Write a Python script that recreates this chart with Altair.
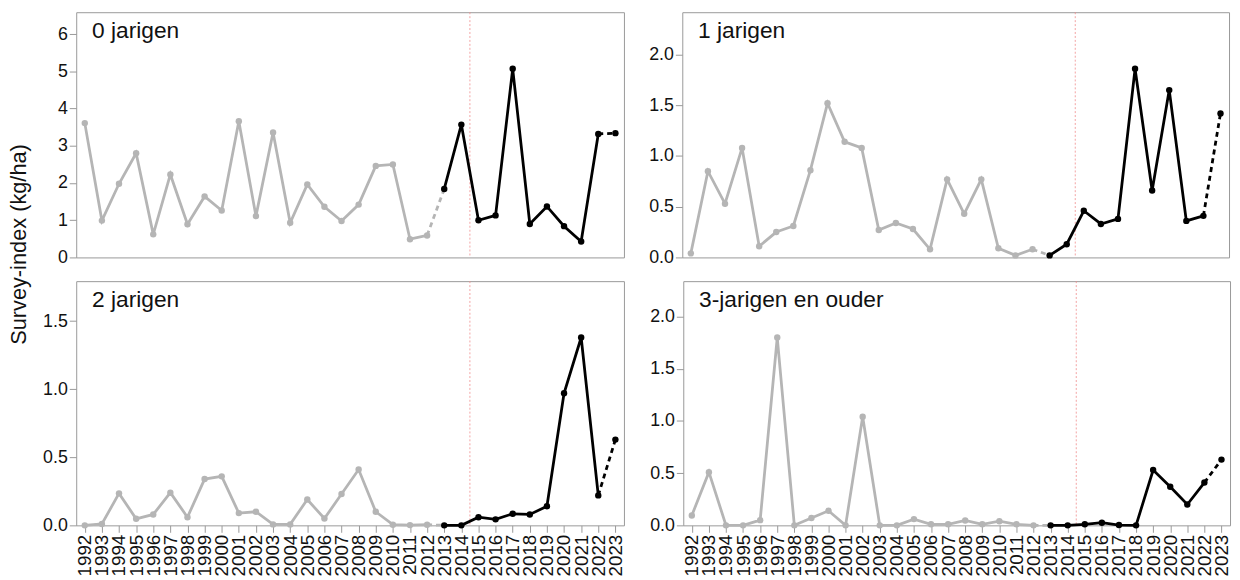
import altair as alt
import pandas as pd

years = list(range(1992, 2024))
age0 = [3.61, 0.99, 1.98, 2.80, 0.62, 2.23, 0.89, 1.64, 1.26, 3.66, 1.11, 3.36, 0.93, 1.96, 1.36, 0.98,
        1.42, 2.46, 2.50, 0.49, 0.59, 1.84, 3.57, 1.00, 1.13, 5.07, 0.90, 1.37, 0.84, 0.43, 3.32, 3.34]
age1 = [0.04, 0.85, 0.53, 1.08, 0.11, 0.25, 0.31, 0.86, 1.52, 1.14, 1.08, 0.27, 0.34, 0.28, 0.08, 0.77,
        0.43, 0.77, 0.09, 0.02, 0.08, 0.02, 0.13, 0.46, 0.33, 0.38, 1.86, 0.66, 1.65, 0.36, 0.41, 1.42]
age2 = [0.0, 0.01, 0.235, 0.048, 0.08, 0.24, 0.06, 0.34, 0.36, 0.09, 0.10, 0.007, 0.007, 0.19, 0.05, 0.23,
        0.41, 0.10, 0.005, 0.002, 0.005, 0.0, 0.0, 0.06, 0.044, 0.085, 0.08, 0.14, 0.97, 1.38, 0.22, 0.63]
age3 = [0.095, 0.51, 0.0, 0.0, 0.05, 1.80, 0.0, 0.07, 0.14, 0.0, 1.04, 0.0, 0.0, 0.06, 0.01, 0.01,
        0.047, 0.01, 0.04, 0.01, 0.0, 0.0, 0.0, 0.01, 0.025, 0.003, 0.0, 0.53, 0.37, 0.20, 0.41, 0.63]

panel_titles = ["0 jarigen", "1 jarigen", "2 jarigen", "3-jarigen en ouder"]
y_ticks = [[0, 1, 2, 3, 4, 5, 6], [0, 0.5, 1.0, 1.5, 2.0], [0, 0.5, 1.0, 1.5], [0, 0.5, 1.0, 1.5, 2.0]]
y_formats = ["d", ".1f", ".1f", ".1f"]
split_year = [2014.5]
old_last = 2012   # last year of the old survey series (gray)
new_last = 2022   # last year of the new series before the latest point

FONT = "Liberation Sans"
GRAY = "#b5b5b5"
BLACK = "#000000"


def panel(vals, title, ticks, fmt, show_x, w, h):
    df = pd.DataFrame({"year": years, "value": vals})
    ymax = max(vals) * 1.3
    xs = alt.Scale(domain=[1991.5, 2023.5], nice=False, zero=False)
    ys = alt.Scale(domain=[0, ymax], nice=False)
    if show_x:
        xaxis = alt.Axis(values=years, format="d", labelAngle=-90, labelOverlap=False,
                         labelFlush=False, tickSize=7, labelPadding=2)
    else:
        xaxis = None
    yaxis = alt.Axis(values=ticks, format=fmt, labelFlush=False, labelOverlap=False,
                     tickSize=7, labelPadding=2, minExtent=40, maxExtent=40)
    enc = dict(x=alt.X("year:Q", scale=xs, axis=xaxis, title=None),
               y=alt.Y("value:Q", scale=ys, axis=yaxis, title=None))
    base = alt.Chart(df).encode(**enc)

    old_line = base.transform_filter(alt.datum.year <= old_last).mark_line(
        color=GRAY, strokeWidth=2.8)
    gap_line = base.transform_filter(
        (alt.datum.year >= old_last) & (alt.datum.year <= old_last + 1)).mark_line(
        color=GRAY, strokeWidth=2.8, strokeDash=[5, 4])
    new_line = base.transform_filter(
        (alt.datum.year > old_last) & (alt.datum.year <= new_last)).mark_line(
        color=BLACK, strokeWidth=2.8)
    last_line = base.transform_filter(alt.datum.year >= new_last).mark_line(
        color=BLACK, strokeWidth=2.8, strokeDash=[5, 4])
    old_pts = base.transform_filter(alt.datum.year <= old_last).mark_circle(
        color=GRAY, size=42, opacity=1)
    new_pts = base.transform_filter(alt.datum.year > old_last).mark_circle(
        color=BLACK, size=42, opacity=1)

    rule = alt.Chart(pd.DataFrame({"year": split_year})).mark_rule(
        color="#f08c8c", strokeWidth=0.8, strokeDash=[2, 2]).encode(
        x=alt.X("year:Q", scale=xs, axis=xaxis, title=None))

    label = alt.Chart(pd.DataFrame({"t": [title]})).mark_text(
        align="left", baseline="alphabetic", font=FONT, fontSize=23, color="#111").encode(
        x=alt.value(16), y=alt.value(26), text="t:N")

    return alt.layer(rule, old_line, gap_line, new_line, last_line, old_pts, new_pts, label).properties(
        width=w, height=h)


p1 = panel(age0, panel_titles[0], y_ticks[0], y_formats[0], False, 554, 248)
p2 = panel(age1, panel_titles[1], y_ticks[1], y_formats[1], False, 553, 248)
p3 = panel(age2, panel_titles[2], y_ticks[2], y_formats[2], True, 554, 247)
p4 = panel(age3, panel_titles[3], y_ticks[3], y_formats[3], True, 553, 247)

chart = alt.vconcat(
    alt.hconcat(p1, p2, spacing=17),
    alt.hconcat(p3, p4, spacing=17),
    spacing=13,
).properties(
    padding={"left": 0, "top": 0, "right": 0, "bottom": 0},
    title=alt.TitleParams(text="Survey-index (kg/ha)", orient="left", anchor="middle",
                          font=FONT, fontSize=22, fontWeight="normal", color="#111",
                          offset=5, dx=50),
).configure_view(
    stroke="#999999", strokeWidth=1
).configure_axis(
    domain=False, grid=False, tickColor="#999999", tickWidth=1,
    labelFont=FONT, labelFontSize=18, labelColor="#111"
).configure_axisX(
    labelFontSize=19
)

chart.save("out.html", embed_options={"renderer": "svg", "actions": False})
